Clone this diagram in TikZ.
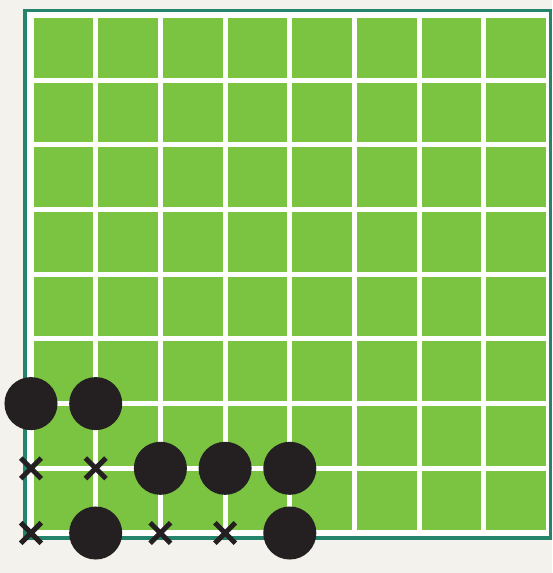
\documentclass[tikz,border=0pt]{standalone}
\usetikzlibrary{shapes.misc}

\definecolor{boardgreen}{RGB}{123,196,66}
\definecolor{rimteal}{RGB}{36,132,108}
\definecolor{paper}{RGB}{244,242,237}
\definecolor{stoneblack}{RGB}{36,31,33}

\tikzset{
  stone/.style={circle, fill=stoneblack, minimum size=0.82cm, inner sep=0pt},
  xmark/.style={cross out, draw=stoneblack, line width=2.2pt, minimum size=0.24cm, inner sep=0pt},
  square/.style={fill=boardgreen},
}

\begin{document}
\begin{tikzpicture}
    % paper and frame
    \fill[paper] (-0.479,-0.618) rectangle (8.053,8.238);
    \useasboundingbox (-0.479,-0.618) rectangle (8.053,8.238);
    \draw[rimteal, line width=1.5pt, fill=white] (-0.093,-0.077) rectangle (8.03,8.08);

    % 8x8 green squares
    \foreach \i in {0,...,7}
        \foreach \j in {0,...,7}
            \fill[square] (\i+0.04,\j+0.04) rectangle (\i+0.96,\j+0.96);

    % stones
    \node[stone] (s02) at (0,2) {};
    \node[stone] (s12) at (1,2) {};
    \node[stone] (s21) at (2,1) {};
    \node[stone] (s31) at (3,1) {};
    \node[stone] (s41) at (4,1) {};
    \node[stone] (s10) at (1,0) {};
    \node[stone] (s40) at (4,0) {};

    % crosses
    \node[xmark] (x01) at (0,1) {};
    \node[xmark] (x11) at (1,1) {};
    \node[xmark] (x00) at (0,0) {};
    \node[xmark] (x20) at (2,0) {};
    \node[xmark] (x30) at (3,0) {};
\end{tikzpicture}
\end{document}
